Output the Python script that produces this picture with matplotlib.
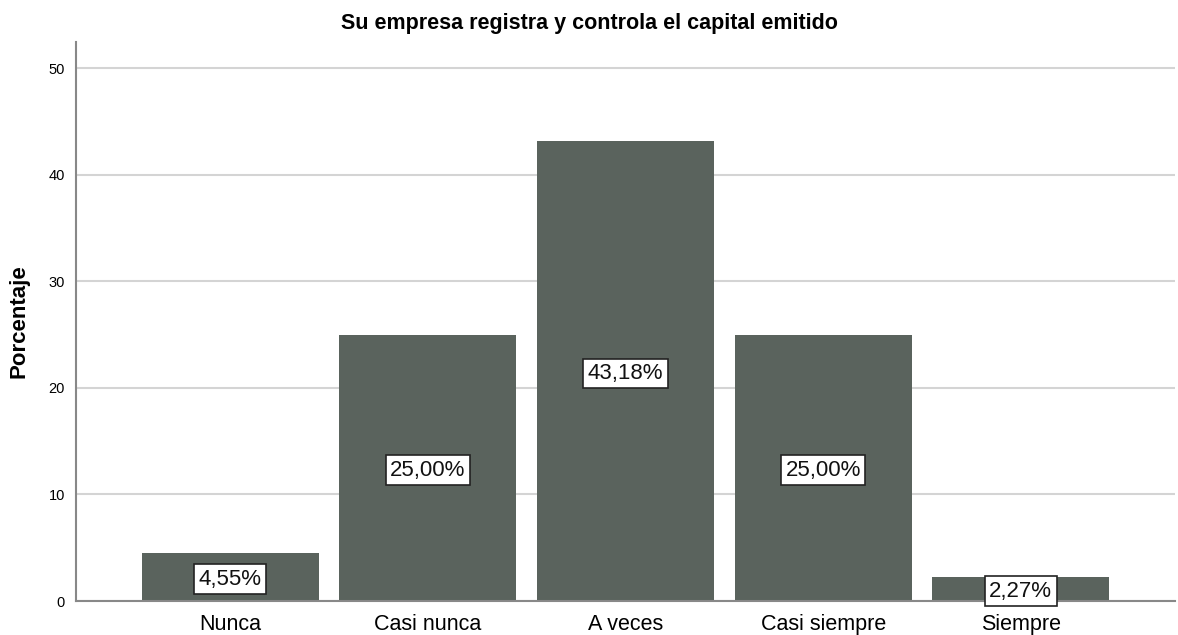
import matplotlib
matplotlib.use("Agg")
import matplotlib.pyplot as plt

categories = ["Nunca", "Casi nunca", "A veces", "Casi siempre", "Siempre"]
values = [4.55, 25.00, 43.18, 25.00, 2.27]
labels = ["4,55%", "25,00%", "43,18%", "25,00%", "2,27%"]
yticks = [0, 10, 20, 30, 40, 50]

plt.rcParams['font.family'] = ['Liberation Sans', 'DejaVu Sans']

fig = plt.figure(figsize=(11.78, 6.35), dpi=100)
ax = fig.add_axes([0.0645, 0.0535, 0.933, 0.881])

x = list(range(len(categories)))
ax.set_axisbelow(True)
ax.yaxis.grid(True, color="#d4d4d4", linewidth=1.5)
ax.bar(x, values, width=0.895, color="#5a635d", zorder=2)

for xi, v, lab in zip(x, values, labels):
    ax.text(xi, v / 2, lab, ha="center", va="center_baseline", fontsize=16, color="#111111", zorder=3,
            bbox=dict(boxstyle="square,pad=0.2", facecolor="white", edgecolor="#222222", linewidth=1.2))

ax.set_xlim(-0.78, 4.78)
ax.set_ylim(0, 52.5)
ax.set_yticks(yticks)
ax.set_yticklabels([str(t) for t in yticks], fontsize=10.5)
ax.set_xticks(x)
ax.set_xticklabels(categories, fontsize=15.5)
ax.tick_params(axis="y", length=0, pad=8)
ax.tick_params(axis="x", length=0, pad=9)

for s in ["top", "right"]:
    ax.spines[s].set_visible(False)
ax.spines["left"].set_color("#888888")
ax.spines["bottom"].set_color("#888888")
ax.spines["left"].set_linewidth(1.5)
ax.spines["bottom"].set_linewidth(1.5)

ax.set_ylabel("Porcentaje", fontsize=16, fontweight="bold", labelpad=14)
fig.text(0.5, 0.963, "Su empresa registra y controla el capital emitido", ha="center", va="center",
         fontsize=15.5, fontweight="bold")

fig.savefig("out.png", dpi=100)
